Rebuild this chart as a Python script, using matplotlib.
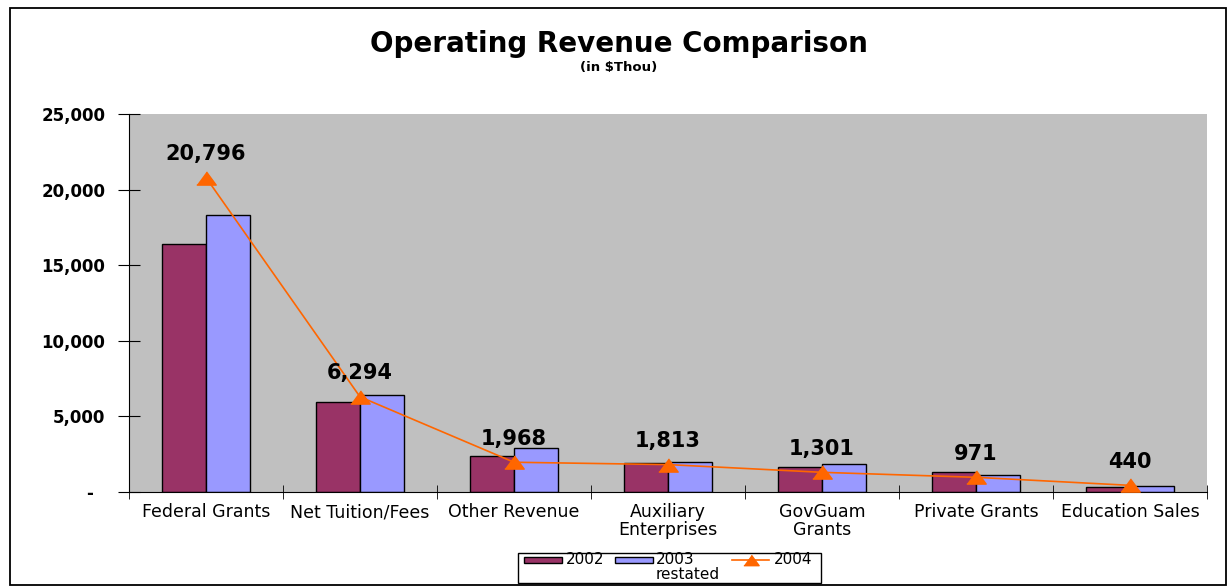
import numpy as np
import matplotlib
matplotlib.use("Agg")
import matplotlib.pyplot as plt
from matplotlib.patches import Rectangle
from matplotlib.lines import Line2D
from matplotlib.ticker import FuncFormatter

plt.rcParams["font.family"] = ["DejaVu Sans"]

# ---- data ----------------------------------------------------------------
categories = ["Federal Grants", "Net Tuition/Fees", "Other Revenue",
              "Auxiliary\nEnterprises", "GovGuam\nGrants", "Private Grants",
              "Education Sales"]
rev_2002 = [16400, 5930, 2380, 1900, 1630, 1320, 310]
rev_2003 = [18340, 6440, 2890, 2010, 1830, 1100, 375]
rev_2004 = [20796, 6294, 1968, 1813, 1301, 971, 440]
series_labels = ["2002", "2003\nrestated", "2004"]

C_2002 = "#993366"
C_2003 = "#9999FF"
C_2004 = "#FF6600"
TRI = [(-1, -0.68), (1, -0.68), (0, 0.68)]  # wide, flat triangle like Excel's

W, H = 1229, 587
fig = plt.figure(figsize=(W / 100, H / 100), dpi=100)


def fx(px):
    return px / W


def fy(py):
    return 1 - py / H


# outer frame
fig.patches.append(Rectangle((fx(10), fy(585)), fx(1216), 577 / H, transform=fig.transFigure,
                             fill=False, edgecolor="black", lw=1.3))

ax = fig.add_axes([fx(129), fy(492), fx(1207 - 129), (492 - 114) / H])
ax.set_facecolor("#C0C0C0")

x = np.arange(len(categories))
bw = 0.285
ax.bar(x - bw / 2, rev_2002, bw, color=C_2002, edgecolor="black", lw=1, zorder=2)
ax.bar(x + bw / 2, rev_2003, bw, color=C_2003, edgecolor="black", lw=1, zorder=2)
ax.plot(x, rev_2004, color=C_2004, lw=1.2, marker=TRI, ms=14, zorder=3)

for xi, v in zip(x, rev_2004):
    ax.annotate(f"{v:,}", (xi, v), xytext=(0, 17), textcoords="offset points",
                ha="center", va="center", fontsize=15, fontweight="bold")

ax.set_xlim(-0.5, len(categories) - 0.5)
ax.set_ylim(0, 25000)
ax.set_yticks(np.arange(0, 25001, 5000))
ax.yaxis.set_major_formatter(FuncFormatter(lambda v, p: "-  " if v == 0 else f"{int(v):,}"))
ax.set_xticks(x)
ax.set_xticklabels(categories, fontsize=12.5, linespacing=1.0)
ax.set_xticks(np.arange(-0.5, len(categories), 1), minor=True)
ax.tick_params(axis="x", which="major", length=0, pad=8)
ax.tick_params(axis="x", which="minor", length=10, direction="inout")
ax.tick_params(axis="y", length=16, direction="inout", labelsize=12, pad=9)
for lab in ax.get_yticklabels():
    lab.set_fontweight("bold")

for s in ["top", "right"]:
    ax.spines[s].set_visible(False)
ax.spines["left"].set_color("black")
ax.spines["bottom"].set_color("black")

fig.text(fx(619), fy(44), "Operating Revenue Comparison", ha="center", va="center",
         fontsize=20, fontweight="bold")
fig.text(fx(619), fy(67), "(in $Thou)", ha="center", va="center",
         fontsize=9.5, fontweight="bold")

# legend, laid out like Excel's (handle level with the first text line)
fig.patches.append(Rectangle((fx(518), fy(583)), fx(821 - 518), 30 / H,
                             transform=fig.transFigure, fill=False,
                             edgecolor="black", lw=1))
fig.patches.append(Rectangle((fx(524), fy(563)), fx(38), 6 / H, transform=fig.transFigure,
                             facecolor=C_2002, edgecolor="black", lw=1))
fig.patches.append(Rectangle((fx(615), fy(563)), fx(38), 6 / H, transform=fig.transFigure,
                             facecolor=C_2003, edgecolor="black", lw=1))
fig.lines.append(Line2D([fx(732), fx(769)], [fy(560), fy(560)], transform=fig.transFigure,
                        color=C_2004, lw=1.2))
fig.lines.append(Line2D([fx(751)], [fy(560)], transform=fig.transFigure, color=C_2004,
                        marker=TRI, ms=11, lw=0))
leg_kw = dict(ha="left", va="center", fontsize=11, linespacing=1.05)
fig.text(fx(566), fy(560), series_labels[0], **leg_kw)
fig.text(fx(656), fy(567), series_labels[1], **leg_kw)
fig.text(fx(774), fy(560), series_labels[2], **leg_kw)

fig.savefig("out.png", dpi=100)
